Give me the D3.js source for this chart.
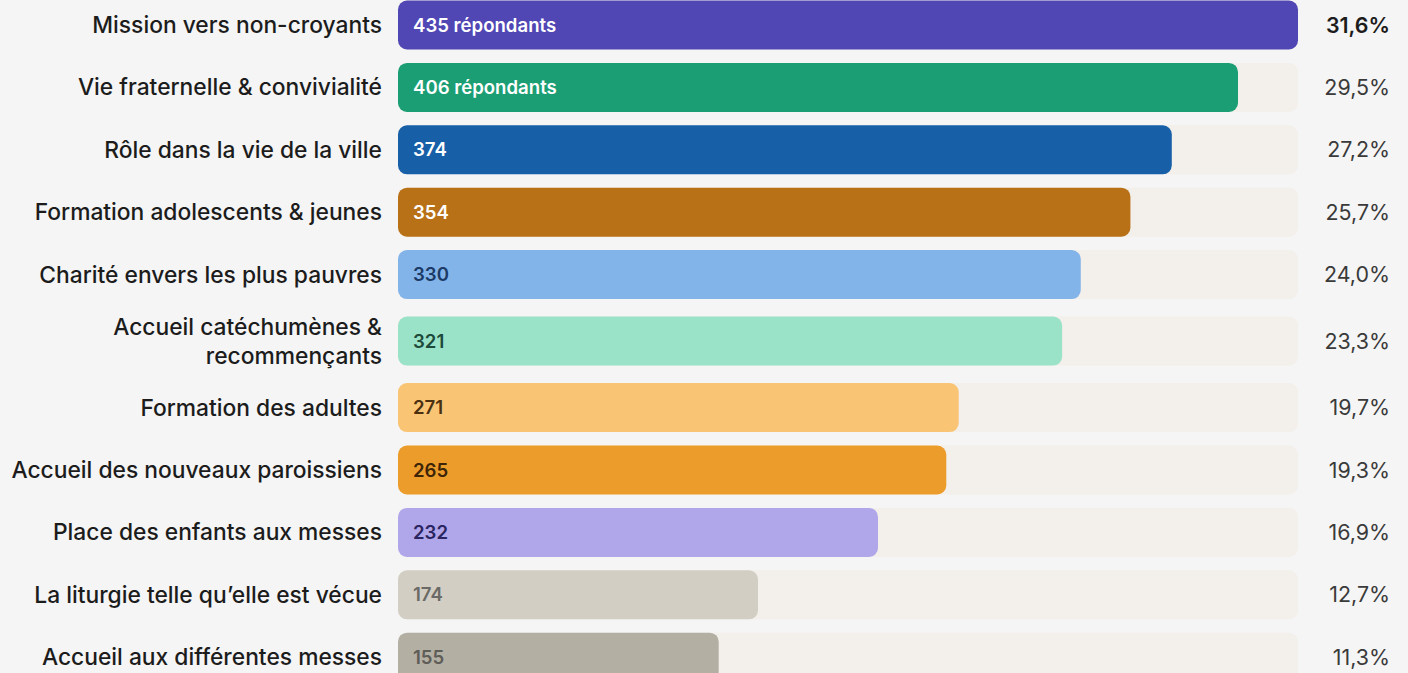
<!DOCTYPE html>
<html><head><meta charset="utf-8">
<script src="https://cdn.jsdelivr.net/npm/d3@7"></script>
<style>
html,body{margin:0;padding:0;background:#f5f5f5;}
svg{display:block;font-family:Inter,"Noto Sans",sans-serif;}
</style></head><body>
<svg id="c" width="1408" height="673"></svg>
<script>
const categories = [
  ["Mission vers non-croyants"],
  ["Vie fraternelle & convivialité"],
  ["Rôle dans la vie de la ville"],
  ["Formation adolescents & jeunes"],
  ["Charité envers les plus pauvres"],
  ["Accueil catéchumènes &", "recommençants"],
  ["Formation des adultes"],
  ["Accueil des nouveaux paroissiens"],
  ["Place des enfants aux messes"],
  ["La liturgie telle qu’elle est vécue"],
  ["Accueil aux différentes messes"]
];
const values = [435, 406, 374, 354, 330, 321, 271, 265, 232, 174, 155];
const percents = ["31,6%", "29,5%", "27,2%", "25,7%", "24,0%", "23,3%", "19,7%", "19,3%", "16,9%", "12,7%", "11,3%"];
const barColors = ["#5046b4", "#1c9e74", "#1760a8", "#b87116", "#82b4ea", "#9ae2c8", "#f9c474", "#ec9c2a", "#b0a6ea", "#d2cec3", "#b3afa3"];
const textColors = ["#ffffff", "#ffffff", "#ffffff", "#ffffff", "#1b3a66", "#1d4a3a", "#4a3010", "#3d2508", "#2a2560", "#6b6a66", "#5f5d58"];

const svg = d3.select("#c");
const x0 = 398, x1 = 1298;
const x = d3.scaleLinear().domain([0, d3.max(values)]).range([x0, x1]);

const baseRow = 62.4, barH = 49;
const centers = [];
let acc = 25;
categories.forEach((c, i) => {
  if (i > 0) acc += baseRow + ((categories[i-1].length > 1) ? 4.1 : 0) + ((c.length > 1) ? 4.1 : 0);
  centers.push(acc);
});

const g = svg.append("g");
const rows = g.selectAll("g.row").data(values).join("g").attr("class","row")
  .attr("transform", (d,i) => `translate(0,${centers[i]})`);

rows.append("rect").attr("x", x0).attr("y", -barH/2).attr("width", x1 - x0).attr("height", barH)
  .attr("rx", 9).attr("fill", "#f3efea");
rows.append("rect").attr("x", x0).attr("y", -barH/2).attr("width", d => x(d) - x0).attr("height", barH)
  .attr("rx", 9).attr("fill", (d,i) => barColors[i]);
rows.append("text").attr("x", x0 + 15).attr("y", 0).attr("dy", "0.35em")
  .attr("font-size", 18.6).attr("font-weight", 600)
  .attr("fill", (d,i) => textColors[i])
  .text((d,i) => i < 2 ? d + " répondants" : d);

rows.append("text").attr("x", 382).attr("text-anchor", "end")
  .attr("font-size", 22.8).attr("font-weight", 500).attr("fill", "#1c1c1c")
  .each(function(d,i){
    const lines = categories[i];
    const t = d3.select(this);
    lines.forEach((l, k) => {
      t.append("tspan").attr("x", 382)
        .attr("y", (k - (lines.length-1)/2) * 29).attr("dy", "0.35em").text(l);
    });
  });

rows.append("text").attr("x", 1390).attr("y", 0).attr("dy", "0.35em").attr("text-anchor", "end")
  .attr("font-size", 21.4).attr("font-weight", (d,i) => i === 0 ? 600 : 400)
  .attr("fill", (d,i) => i === 0 ? "#1c1c1c" : "#3a3a3a")
  .text((d,i) => percents[i]);
</script>
</body></html>
